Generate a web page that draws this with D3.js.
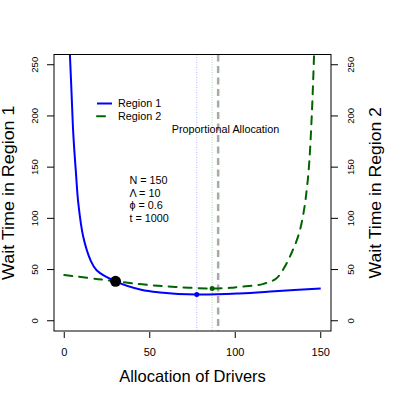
<!DOCTYPE html>
<html>
<head>
<meta charset="utf-8">
<script src="https://cdn.jsdelivr.net/npm/d3@7"></script>
<style>
  body { margin: 0; background: #fff; }
  text { font-family: "Liberation Sans", Arial, sans-serif; fill: #000; }
</style>
</head>
<body>
<div id="chart"></div>
<script>
// Region 1 wait time (blue, solid)
const region1X = [3.3, 4.3, 5.3, 6.9, 8.2, 11.1, 15.4, 18.9, 30, 45, 56, 77.5, 102.5, 123, 150];
const region1Y = [260, 221, 182, 143, 115, 82, 59, 49.4, 38.5, 30.3, 27.7, 25.7, 26.7, 28.7, 31.6];

// Region 2 wait time (green, dashed)
const region2X = [0, 20, 44, 65, 86.5, 97, 102.5, 116, 124, 128, 132.8, 137.3, 140.2, 142, 143.3, 144.9, 146.1];
const region2Y = [44.6, 40.6, 35.8, 33.0, 31.5, 32.2, 33.2, 35.8, 41.3, 50, 65.7, 85.2, 108, 130.7, 155, 206, 260];

// marked points: crossing, region 1 optimum, region 2 optimum
const crossPoint = [30, 38.5];
const optimum1 = [77.5, 25.7];
const optimum2 = [86.5, 31.5];
const proportional = 90;

const xTicks = [0, 50, 100, 150];
const yTicks = [0, 50, 100, 150, 200, 250];
const legendLabels = ["Region 1", "Region 2"];
const paramLabels = ["N = 150", "\u039B = 10", "\u03D5 = 0.6", "t = 1000"];

const width = 399, height = 399;
const plotLeft = 54, plotRight = 331, plotTop = 54.5, plotBottom = 331;

const svg = d3.select("#chart").append("svg")
    .attr("width", width)
    .attr("height", height);

const x = d3.scaleLinear().domain([-6, 156]).range([plotLeft, plotRight]);
const y = d3.scaleLinear().domain([-10, 260]).range([plotBottom, plotTop]);

svg.append("clipPath").attr("id", "plotclip")
    .append("rect")
    .attr("x", plotLeft).attr("y", plotTop)
    .attr("width", plotRight - plotLeft).attr("height", plotBottom - plotTop);

const plot = svg.append("g").attr("clip-path", "url(#plotclip)");

// optimum / proportional reference lines
plot.append("line")
    .attr("x1", x(optimum1[0])).attr("x2", x(optimum1[0]))
    .attr("y1", plotTop).attr("y2", plotBottom)
    .attr("stroke", "#b4b4ff").attr("stroke-width", 1)
    .attr("stroke-dasharray", "1,1.5");
plot.append("line")
    .attr("x1", x(optimum2[0])).attr("x2", x(optimum2[0]))
    .attr("y1", plotTop).attr("y2", plotBottom)
    .attr("stroke", "#add6ad").attr("stroke-width", 1)
    .attr("stroke-dasharray", "1,1.5");
plot.append("line")
    .attr("x1", x(proportional)).attr("x2", x(proportional))
    .attr("y1", plotTop).attr("y2", plotBottom)
    .attr("stroke", "#a9a9a9").attr("stroke-width", 2.5)
    .attr("stroke-dasharray", "7,4.5");

const line = d3.line()
    .x(d => x(d[0]))
    .y(d => y(d[1]))
    .curve(d3.curveCatmullRom.alpha(0.5));

plot.append("path")
    .datum(d3.zip(region2X, region2Y))
    .attr("d", line)
    .attr("fill", "none")
    .attr("stroke", "#006400")
    .attr("stroke-width", 2)
    .attr("stroke-dasharray", "8,7")
    .attr("stroke-linecap", "round");

plot.append("path")
    .datum(d3.zip(region1X, region1Y))
    .attr("d", line)
    .attr("fill", "none")
    .attr("stroke", "#0000ff")
    .attr("stroke-width", 2);

plot.append("circle")
    .attr("cx", x(crossPoint[0])).attr("cy", y(crossPoint[1]))
    .attr("r", 5.5).attr("fill", "#000");
plot.append("circle")
    .attr("cx", x(optimum1[0])).attr("cy", y(optimum1[1]))
    .attr("r", 2.5).attr("fill", "#0000ff");
plot.append("circle")
    .attr("cx", x(optimum2[0])).attr("cy", y(optimum2[1]))
    .attr("r", 2.5).attr("fill", "#006400");

// box
svg.append("rect")
    .attr("x", plotLeft).attr("y", plotTop)
    .attr("width", plotRight - plotLeft).attr("height", plotBottom - plotTop)
    .attr("fill", "none").attr("stroke", "#000").attr("stroke-width", 1);

// x axis
const xAxis = svg.append("g");
xAxis.selectAll("line").data(xTicks).join("line")
    .attr("x1", d => x(d)).attr("x2", d => x(d))
    .attr("y1", plotBottom + 1).attr("y2", plotBottom + 7)
    .attr("stroke", "#000");
xAxis.selectAll("text").data(xTicks).join("text")
    .attr("x", d => x(d)).attr("y", 356)
    .attr("text-anchor", "middle")
    .attr("font-size", 11)
    .text(d => d);

// y axes, left and right share the same scale
function yAxis(xEdge, dir, labelX) {
    const g = svg.append("g");
    g.selectAll("line").data(yTicks).join("line")
        .attr("x1", xEdge).attr("x2", xEdge + dir * 7)
        .attr("y1", d => y(d)).attr("y2", d => y(d))
        .attr("stroke", "#000");
    g.selectAll("text").data(yTicks).join("text")
        .attr("transform", d => `translate(${labelX},${y(d)}) rotate(-90)`)
        .attr("text-anchor", "middle")
        .attr("font-size", 9.5)
        .text(d => d);
}
yAxis(plotLeft, -1, 37.5);
yAxis(plotRight, 1, 353.5);

// axis titles
svg.append("text")
    .attr("x", (plotLeft + plotRight) / 2).attr("y", 382)
    .attr("text-anchor", "middle")
    .attr("font-size", 16.5)
    .text("Allocation of Drivers");
svg.append("text")
    .attr("transform", `translate(14,${(plotTop + plotBottom) / 2}) rotate(-90) scale(1.12,1)`)
    .attr("text-anchor", "middle")
    .attr("font-size", 16)
    .text("Wait Time in Region 1");
svg.append("text")
    .attr("transform", `translate(381,${(plotTop + plotBottom) / 2}) rotate(-90) scale(1.1,1)`)
    .attr("text-anchor", "middle")
    .attr("font-size", 16)
    .text("Wait Time in Region 2");

// legend
const legend = svg.append("g").attr("transform", "translate(97,103.5)");
const legendRow = legend.selectAll("g").data(legendLabels).join("g")
    .attr("transform", (d, i) => `translate(0,${i * 12.7})`);
legendRow.append("line")
    .attr("x1", 0).attr("x2", 15)
    .attr("stroke", (d, i) => i === 0 ? "#0000ff" : "#006400")
    .attr("stroke-width", 2)
    .attr("stroke-dasharray", (d, i) => i === 0 ? null : "8,8")
    .attr("stroke-linecap", (d, i) => i === 0 ? "butt" : "round");
legendRow.append("text")
    .attr("x", 21).attr("y", 3.8)
    .attr("font-size", 10.8)
    .text(d => d);

svg.append("text")
    .attr("x", x(94.3)).attr("y", y(183))
    .attr("text-anchor", "middle")
    .attr("font-size", 10.8)
    .text("Proportional Allocation");

svg.append("g").selectAll("text").data(paramLabels).join("text")
    .attr("x", 129.5)
    .attr("y", (d, i) => 184 + i * 12.7)
    .attr("font-size", 10.8)
    .text(d => d);
</script>
</body>
</html>
